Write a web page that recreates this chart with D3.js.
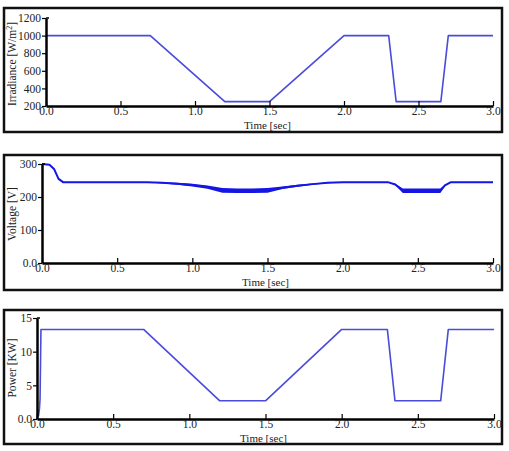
<!DOCTYPE html>
<html>
<head>
<meta charset="utf-8">
<script src="https://cdn.jsdelivr.net/npm/d3@7"></script>
<style>
  body { margin: 0; background: #fff; }
</style>
</head>
<body>
<div id="chart"></div>
<script>
// x ticks shared by the three plots
const timeTicks = [0, 0.5, 1.0, 1.5, 2.0, 2.5, 3.0];

// irradiance [W/m2]
const irrTime = [0, 0.7, 1.2, 1.5, 2.0, 2.3, 2.35, 2.65, 2.7, 3.0];
const irrValue = [1000, 1000, 250, 250, 1000, 1000, 250, 250, 1000, 1000];
const irrTicks = [200, 400, 600, 800, 1000, 1200];

// voltage [V] : mean trace and ripple half-width
const voltTime = [0, 0.05, 0.08, 0.11, 0.14, 0.7, 0.8, 0.9, 1.0, 1.1, 1.2, 1.3, 1.4, 1.5, 1.6, 1.7, 1.8, 1.9, 2.0, 2.3, 2.35, 2.4, 2.65, 2.68, 2.72, 3.0];
const voltValue = [300, 298, 285, 255, 245, 245, 243, 240, 236, 230, 220, 219, 219, 220, 228, 234, 239, 243, 245, 245, 238, 219, 219, 235, 245, 245];
const voltRipple = [0, 0, 0, 0, 0, 0, 2, 3, 4, 5, 7, 7, 7, 7, 4, 3, 2, 1, 0, 0, 2, 7, 7, 2, 0, 0];
const voltTicks = [0, 100, 200, 300];

// power [KW]
const powTime = [0, 0.006, 0.01, 0.016, 0.02, 0.026, 0.7, 1.2, 1.5, 2.0, 2.3, 2.35, 2.65, 2.7, 3.0];
const powValue = [0, 1.3, 0.5, 1.5, 3, 13.3, 13.3, 2.7, 2.7, 13.3, 13.3, 2.7, 2.7, 13.3, 13.3];
const powTicks = [0, 5, 10, 15];

const serif = "'Liberation Serif', 'Times New Roman', serif";
const width = 509, height = 451;
const svg = d3.select("#chart").append("svg")
  .attr("width", width)
  .attr("height", height);

function panel(cfg) {
  const g = svg.append("g");

  // frame
  g.append("rect")
    .attr("x", cfg.frame[0]).attr("y", cfg.frame[1])
    .attr("width", cfg.frame[2] - cfg.frame[0])
    .attr("height", cfg.frame[3] - cfg.frame[1])
    .attr("fill", "#fff")
    .attr("stroke", "#111")
    .attr("stroke-width", 2.5);

  const x = d3.scaleLinear().domain([0, 3]).range([cfg.x0, cfg.x1]);
  const y = d3.scaleLinear().domain(cfg.yDomain).range([cfg.yBot, cfg.yTop]);

  const pts = cfg.t.map((t, i) => ({ t: t, v: cfg.v[i], r: cfg.r ? cfg.r[i] : 0 }));

  if (cfg.r) {
    g.append("path")
      .datum(pts)
      .attr("fill", cfg.color)
      .attr("d", d3.area()
        .x(d => x(d.t))
        .y0(d => y(d.v - d.r))
        .y1(d => y(d.v + d.r)));
  }

  g.append("path")
    .datum(pts)
    .attr("fill", "none")
    .attr("stroke", cfg.color)
    .attr("stroke-width", cfg.lw)
    .attr("stroke-linejoin", "round")
    .attr("d", d3.line().x(d => x(d.t)).y(d => y(d.v)));

  // x axis, ticks pointing inward
  g.append("g")
    .attr("transform", `translate(0,${cfg.yBot})`)
    .call(d3.axisBottom(x)
      .tickValues(timeTicks)
      .tickFormat(d3.format(".1f"))
      .tickSizeInner(-5)
      .tickSizeOuter(0)
      .tickPadding(1));

  // y axis
  g.append("g")
    .attr("transform", `translate(${cfg.x0},0)`)
    .call(d3.axisLeft(y)
      .tickValues(cfg.ticks)
      .tickFormat(cfg.fmt)
      .tickSizeInner(4)
      .tickSizeOuter(0)
      .tickPadding(1));

  g.selectAll(".domain").attr("stroke", "#000").attr("stroke-width", 2.5);
  g.selectAll(".tick line").attr("stroke", "#000").attr("stroke-width", 1.2);
  g.selectAll(".tick text")
    .style("font-family", serif)
    .style("font-size", "11.5px")
    .attr("fill", "#222");

  // small inward tick at top of y axis
  g.append("line")
    .attr("x1", cfg.x0).attr("x2", cfg.x0 + 3)
    .attr("y1", cfg.yTop).attr("y2", cfg.yTop)
    .attr("stroke", "#000").attr("stroke-width", 1.5);

  g.append("text")
    .attr("x", (cfg.x0 + cfg.x1) / 2 - 2)
    .attr("y", cfg.yBot + 23)
    .attr("text-anchor", "middle")
    .style("font-family", serif)
    .style("font-size", "11px")
    .attr("fill", "#222")
    .text("Time [sec]");

  const yl = g.append("text")
    .attr("transform", `translate(${16},${cfg.labelY}) rotate(-90)`)
    .attr("text-anchor", "middle")
    .style("font-family", serif)
    .style("font-size", "11.5px")
    .attr("fill", "#222");
  cfg.label(yl);
}

panel({
  frame: [4, 8, 502, 132], x0: 46, x1: 493, yTop: 18, yBot: 106,
  yDomain: [200, 1200], ticks: irrTicks, fmt: d => d,
  t: irrTime, v: irrValue, color: "#4b4bdc", lw: 1.6,
  labelY: 64,
  label: s => {
    s.append("tspan").text("Irradiance [W/m");
    s.append("tspan").attr("dy", -4).style("font-size", "8px").text("2");
    s.append("tspan").attr("dy", 4).text("]");
  }
});

panel({
  frame: [4, 155, 502, 290], x0: 42, x1: 493, yTop: 164, yBot: 263,
  yDomain: [0, 300], ticks: voltTicks, fmt: d => d === 0 ? "0.0" : d,
  t: voltTime, v: voltValue, r: voltRipple, color: "#1515e6", lw: 2,
  labelY: 214,
  label: s => s.text("Voltage [V]")
});

panel({
  frame: [4, 310, 502, 444], x0: 37, x1: 494, yTop: 318, yBot: 419,
  yDomain: [0, 15], ticks: powTicks, fmt: d => d === 0 ? "0.0" : d,
  t: powTime, v: powValue, color: "#4b4bdc", lw: 1.6,
  labelY: 368,
  label: s => s.text("Power [KW]")
});
</script>
</body>
</html>
